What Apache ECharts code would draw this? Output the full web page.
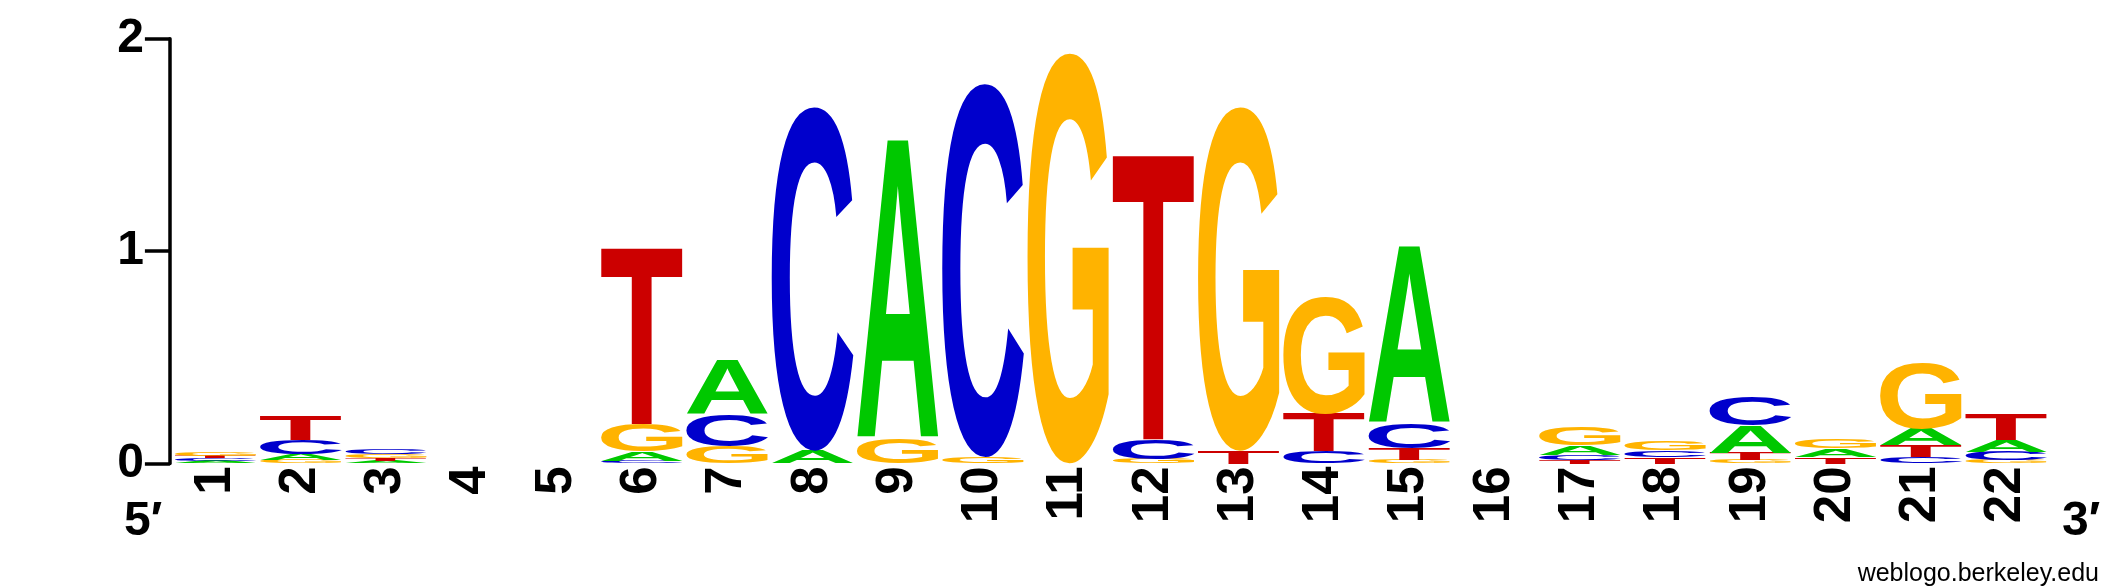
<!DOCTYPE html>
<html>
<head>
<meta charset="utf-8">
<script src="https://cdn.jsdelivr.net/npm/echarts@6/dist/echarts.min.js"></script>
<style>
  html, body { margin: 0; padding: 0; background: #fff; }
  #logo { width: 2125px; height: 588px; }
</style>
</head>
<body>
<div id="logo"></div>
<script>
// positions along the motif
var positions = ['1','2','3','4','5','6','7','8','9','10','11','12','13','14','15','16','17','18','19','20','21','22']

// letter heights in bits, one value per position
var A = [0.012, 0.03, 0.012, 0, 0, 0.045, 0.255, 0.06, 1.407, 0, 0, 0, 0, 0, 0.835, 0, 0.045, 0, 0.13, 0.038, 0.08, 0.055]
var C = [0.012, 0.065, 0.026, 0, 0, 0.012, 0.15, 1.62, 0, 1.76, 0, 0.092, 0, 0.057, 0.12, 0, 0.022, 0.033, 0.135, 0, 0.03, 0.04]
var G = [0.02, 0.015, 0.02, 0, 0, 0.13, 0.08, 0, 0.118, 0.03, 1.934, 0.022, 1.62, 0.553, 0.015, 0, 0.085, 0.042, 0.015, 0.045, 0.313, 0.015]
var T = [0.012, 0.117, 0.012, 0, 0, 0.835, 0, 0, 0, 0, 0, 1.346, 0.06, 0.18, 0.055, 0, 0.018, 0.03, 0.035, 0.032, 0.055, 0.12]

var yTicks = [0, 1, 2]

var bases = ['A', 'C', 'G', 'T']
var heights = { A: A, C: C, G: G, T: T }
var colors = { A: '#00c800', C: '#0000cc', G: '#ffb300', T: '#cc0000' }
var FONT = 'bold 200px "Liberation Sans", Arial, sans-serif'

// ink box of every glyph, so a letter can be stretched to fill its cell
var ctx = document.createElement('canvas').getContext('2d')
ctx.font = FONT
ctx.textAlign = 'left'
ctx.textBaseline = 'middle'
var ink = {}
bases.forEach(function (b) {
    var m = ctx.measureText(b)
    ink[b] = { l: m.actualBoundingBoxLeft, r: m.actualBoundingBoxRight, a: m.actualBoundingBoxAscent, d: m.actualBoundingBoxDescent }
})

// stack the letters: smallest at the bottom
function buildStacks () {
    var out = []
    for (var i = 0; i < positions.length; i++) {
        var col = bases.map(function (b, k) { return { b: k, h: heights[b][i] } })
            .filter(function (o) { return o.h > 0 })
            .sort(function (p, q) { return p.h - q.h })
        var y = 0
        col.forEach(function (o) {
            out.push([i, y, y + o.h, o.b])
            y += o.h
        })
    }
    return out
}

function renderLetter (params, api) {
    var b = bases[api.value(3)]
    var lo = api.coord([api.value(0), api.value(1)])
    var hi = api.coord([api.value(0), api.value(2)])
    var w = api.size([1, 0])[0] * 0.958
    var h = lo[1] - hi[1]
    if (h <= 0) return
    var g = ink[b]
    var sx = w / (g.l + g.r), sy = h / (g.a + g.d)
    return {
        type: 'text',
        x: lo[0] - w / 2 + g.l * sx,
        y: hi[1] + g.a * sy,
        scaleX: sx,
        scaleY: sy,
        style: { text: b, font: FONT, fill: colors[b], align: 'left', verticalAlign: 'middle' }
    }
}

var chart = echarts.init(document.getElementById('logo'), null, { renderer: 'canvas' })
var labelFont = '"Liberation Sans", Arial, sans-serif'

chart.setOption({
    backgroundColor: '#fff',
    animation: false,
    grid: { left: 172.9, right: 76.1, top: 38.7, bottom: 124.5 },
    xAxis: {
        type: 'category',
        data: positions,
        boundaryGap: true,
        axisLine: { show: false },
        axisTick: { show: false },
        axisLabel: {
            rotate: 90, margin: 3, color: '#000', fontSize: 51, fontWeight: 'bold',
            fontFamily: labelFont, padding: [12, 0, 0, 0]
        }
    },
    yAxis: {
        type: 'value', min: 0, max: 2, interval: 1, offset: 3,
        axisLine: { show: true, lineStyle: { color: '#000', width: 3.5 } },
        axisTick: { show: true, length: 25, lineStyle: { color: '#000', width: 3.5 } },
        splitLine: { show: false },
        axisLabel: {
            margin: 26, color: '#000', fontSize: 48, fontWeight: 'bold', fontFamily: labelFont,
            formatter: function (v) { return yTicks.indexOf(v) >= 0 ? String(v) : '' }
        }
    },
    graphic: [
        { type: 'text', x: 124, y: 522, style: { text: '5′', font: 'bold 48px ' + labelFont, fill: '#000', verticalAlign: 'middle' } },
        { type: 'text', x: 2062, y: 522, style: { text: '3′', font: 'bold 48px ' + labelFont, fill: '#000', verticalAlign: 'middle' } },
        { type: 'text', x: 2099, y: 574, style: { text: 'weblogo.berkeley.edu', font: '25px ' + labelFont, fill: '#000', align: 'right', verticalAlign: 'middle' } }
    ],
    series: [{
        type: 'custom',
        renderItem: renderLetter,
        encode: { x: 0, y: [1, 2] },
        data: buildStacks()
    }]
})
</script>
</body>
</html>
